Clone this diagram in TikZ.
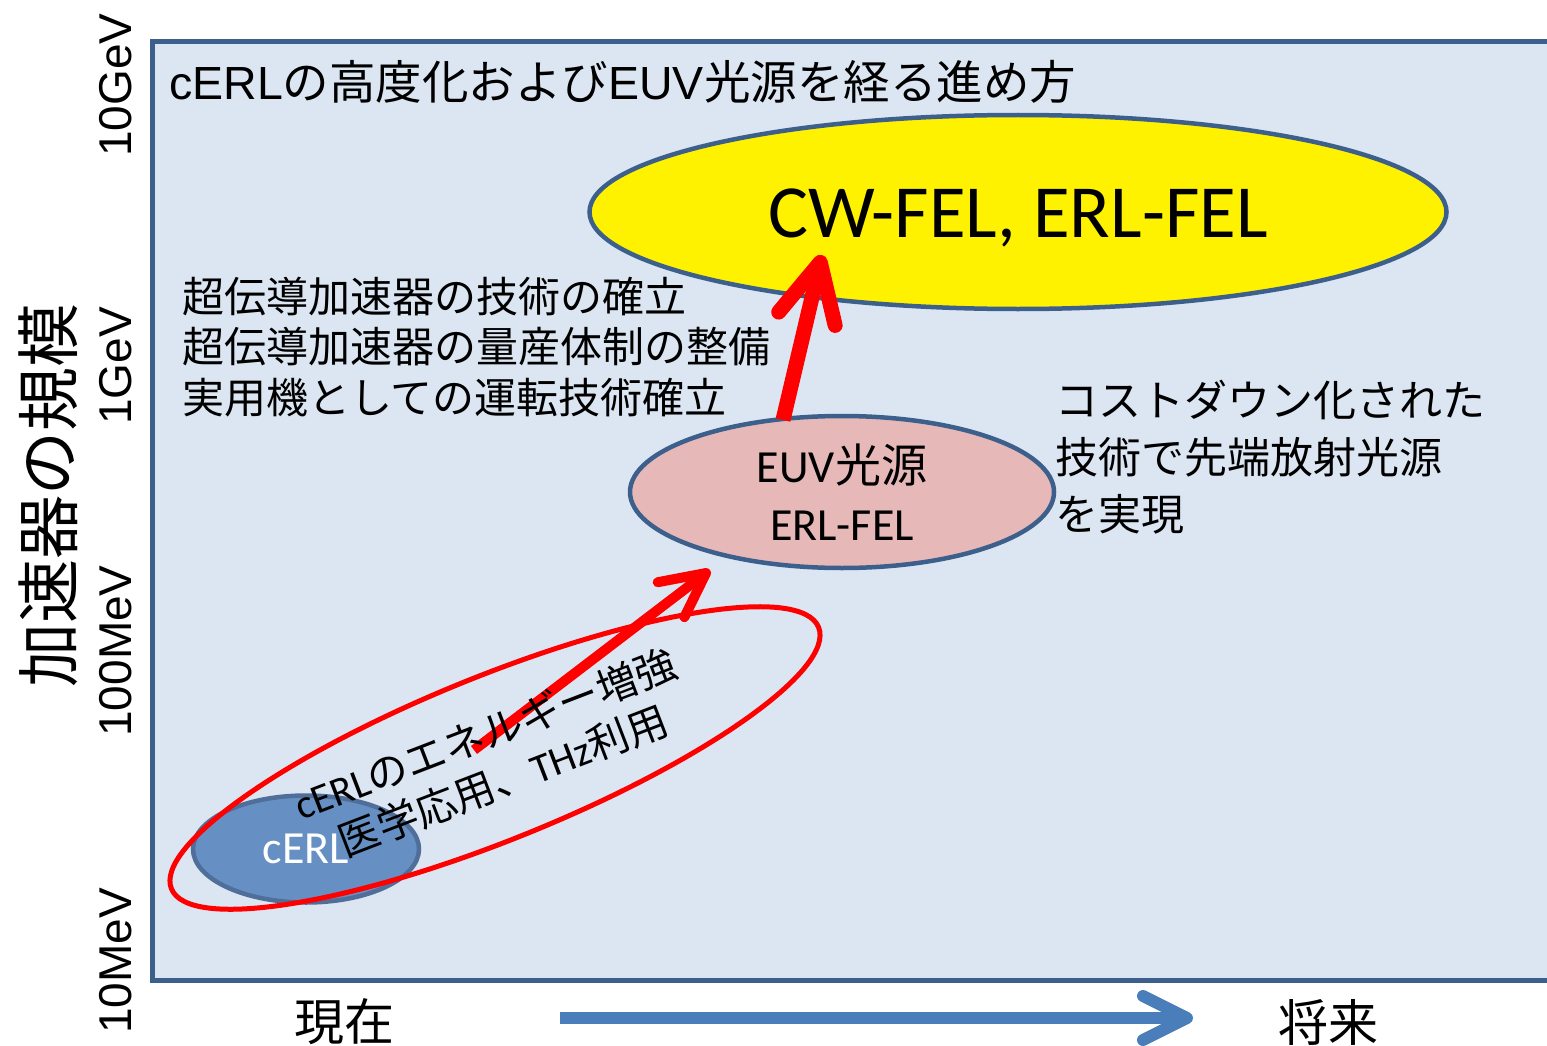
\documentclass[tikz,border=0pt]{standalone}
\usepackage{fontspec}
\setmainfont{Liberation Sans}
\newfontfamily\fJp{Noto Sans CJK JP}
\newfontfamily\fCa{Carlito}
\newfontfamily\fAr{Liberation Sans}
\usetikzlibrary{shapes.geometric,arrows.meta}
\definecolor{bgc}{HTML}{DCE6F2}
\definecolor{framec}{HTML}{3D5F8B}
\definecolor{pinkc}{HTML}{E6B9B8}
\definecolor{bluefill}{HTML}{6690C3}
\definecolor{blueline}{HTML}{4F6E99}
\definecolor{arrowblue}{HTML}{4A7EBB}
\newcommand\setfs[2]{\fontsize{#1}{#2}\selectfont}
\begin{document}
\begin{tikzpicture}[x=1pt,y=-1pt,
  oval/.style={ellipse, draw=framec, line width=4.5pt, inner sep=0pt},
  jptext/.style={font=\fJp\setfs{#1}{#1}, inner sep=0pt},
  axislabel/.style={font=\fAr\setfs{46}{46}, rotate=90, anchor=base, inner sep=0pt},
  bigarrow/.style={line width=#1, line cap=butt}]
\useasboundingbox (0,0) rectangle (1547,1046);
\clip (0,0) rectangle (1547,1046);
% frame
\fill[bgc] (152,42) rectangle (1570,980);
\draw[framec, line width=5pt] (1570,42) -- (152,42) -- (152,980) -- (1570,980);
% axis
\node[jptext=64, rotate=90] (ytitle) at (48,495) {加速器の規模};
\node[axislabel] (l10g) at (131,85) {10GeV};
\node[axislabel] (l1g) at (131,366) {1GeV};
\node[axislabel] (l100m) at (131,651) {100MeV};
\node[axislabel] (l10m) at (131,961) {10MeV};
% texts
\node[jptext=46.5, anchor=west] (title) at (169,82) {{\fAr cERL}の高度化および{\fAr EUV}光源を経る進め方};
\node[font=\fJp\setfs{42}{50.5}, inner sep=0pt, align=left, anchor=west] (tech) at (182,347)
  {超伝導加速器の技術の確立\\超伝導加速器の量産体制の整備\\実用機としての運転技術確立};
\node[font=\fJp\setfs{43}{57}, inner sep=0pt, align=left, anchor=west] (cost) at (1055,457)
  {コストダウン化された\\技術で先端放射光源\\を実現};
% ellipses
\node[oval, fill=yellow, minimum width=857pt, minimum height=194pt,
  font=\fCa\setfs{75}{80}, text height=50pt, text depth=0pt] (fel) at (1018,212) {CW-FEL, ERL-FEL};
\node[oval, fill=pinkc, minimum width=424pt, minimum height=152pt, align=center,
  font=\fCa\setfs{46}{58}] (euv) at (842,492) {EUV{\fJp 光源}\\ERL-FEL};
\coordinate (a2s) at (783,420);
\coordinate (a2e) at (822,255);
\draw[red, bigarrow=15pt, -{Straight Barb[length=58pt, width=58pt, round]}] (a2s) -- (a2e);
\node[oval, draw=blueline, fill=bluefill, minimum width=226pt, minimum height=107pt,
  text=white, font=\fCa\setfs{46}{50}] (cerl) at (306,849) {cERL};
\node[ellipse, draw=red, line width=5pt, minimum width=698pt, minimum height=164pt,
  rotate=22, inner sep=0pt] (app) at (495,758) {};
\coordinate (a1s) at (474,750);
\coordinate (a1e) at (710,570);
\draw[red, bigarrow=10pt, -{Straight Barb[length=44pt, width=44pt, round]}] (a1s) -- (a1e);
\node[rotate=21, align=center, font=\fJp\setfs{41}{50}, inner sep=0pt] (apptext) at (494,757)
  {{\fCa cERL}のエネルギー増強\\医学応用、{\fCa THz}利用};
% time axis
\node[jptext=50] (now) at (344,1022) {現在};
\node[jptext=50] (future) at (1328,1022) {将来};
\coordinate (ts) at (560,1018);
\coordinate (te) at (1193,1018);
\draw[arrowblue, bigarrow=12pt, -{Straight Barb[length=44pt, width=44pt, round]}] (ts) -- (te);
\end{tikzpicture}
\end{document}
